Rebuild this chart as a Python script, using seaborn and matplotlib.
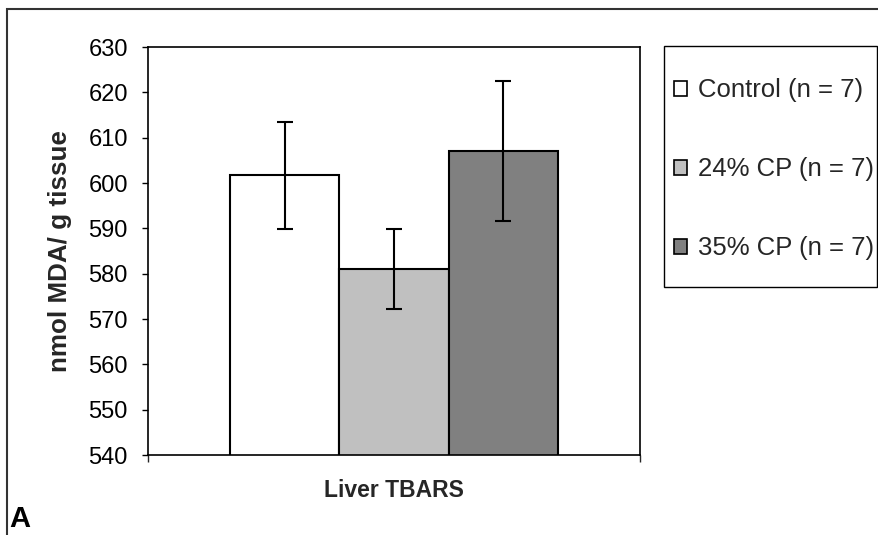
import matplotlib
matplotlib.use("Agg")
import matplotlib.pyplot as plt
from matplotlib.patches import Rectangle
import seaborn as sns
import pandas as pd

# ---- data ----
assay = ["Liver TBARS"]
groups = ["Control (n = 7)", "24% CP (n = 7)", "35% CP (n = 7)"]
means = [601.7, 581.0, 607.0]
errors = [11.8, 8.8, 15.4]
colors = ["#FFFFFF", "#C0C0C0", "#808080"]
yticks = [540, 550, 560, 570, 580, 590, 600, 610, 620, 630]
ylabel = "nmol MDA/ g tissue"

sns.set_style("white")
plt.rcParams["font.family"] = ["Liberation Sans", "DejaVu Sans"]

df = pd.DataFrame({"assay": assay * len(groups), "group": groups, "value": means})

fig = plt.figure(figsize=(8.79, 5.35), dpi=100)
ax = fig.add_axes([148 / 879, 1 - 455 / 535, (640 - 148) / 879, (455 - 47) / 535])

sns.barplot(data=df, x="assay", y="value", hue="group", hue_order=groups,
            palette=colors, edgecolor="black", linewidth=1.5, width=0.667,
            errorbar=None, ax=ax, legend=True, saturation=1)

# error bars at bar centres
bars = [p for p in ax.patches if p.get_width() > 0][:len(groups)]
bars = sorted(bars, key=lambda p: p.get_x())
xs = [p.get_x() + p.get_width() / 2 for p in bars]
ax.errorbar(xs, means, yerr=errors, fmt="none", ecolor="black",
            elinewidth=1.5, capsize=5.5, capthick=1.5, zorder=5)

ax.set_ylim(540, 630)
ax.set_yticks(yticks)
ax.set_xlim(-0.5, 0.5)
ax.set_xticks([-0.5, 0.5])
ax.set_xticklabels(["", ""])
ax.tick_params(axis="y", direction="out", length=4.5, width=1, labelsize=17,
               pad=10, left=True, colors="black")
ax.tick_params(axis="x", direction="out", length=5, width=1, bottom=True)

for s in ax.spines.values():
    s.set_visible(True)
    s.set_color("black")
    s.set_linewidth(1.2)

ax.set_ylabel(ylabel, fontsize=18.7, fontweight="bold")
ax.yaxis.set_label_coords(-0.1545, 0.5)
ax.set_xlabel(assay[0], fontsize=16.5, fontweight="bold")
ax.xaxis.set_label_coords(0.5, -0.06)

# legend
handles, labels = ax.get_legend_handles_labels()
if ax.legend_:
    ax.legend_.remove()
leg = fig.legend(handles, labels, loc="upper left",
                 bbox_to_anchor=(674 / 879, 1 - 78.5 / 535),
                 frameon=False, fontsize=18.5, handlelength=0.52,
                 handleheight=0.52, handletextpad=0.4, labelspacing=2.135,
                 borderpad=0, borderaxespad=0)
for h in leg.legend_handles:
    h.set_edgecolor("black")
    h.set_linewidth(1.2)

# legend box
fig.add_artist(Rectangle((664 / 879, 1 - 287 / 535), (877 - 664) / 879, (287 - 46) / 535,
                         transform=fig.transFigure, fill=False, edgecolor="black",
                         linewidth=1))

# outer chart border (clipped by image edges)
fig.add_artist(Rectangle((7 / 879, -0.2), 1.2, (1 - 9 / 535) + 0.2,
                         transform=fig.transFigure, fill=False, edgecolor="#333333",
                         linewidth=1.5))

# panel letter
fig.text(9 / 879, 1 - 533 / 535, "A", fontsize=21, fontweight="bold",
         ha="left", va="bottom", color="black")

fig.savefig("out.png", dpi=100)
